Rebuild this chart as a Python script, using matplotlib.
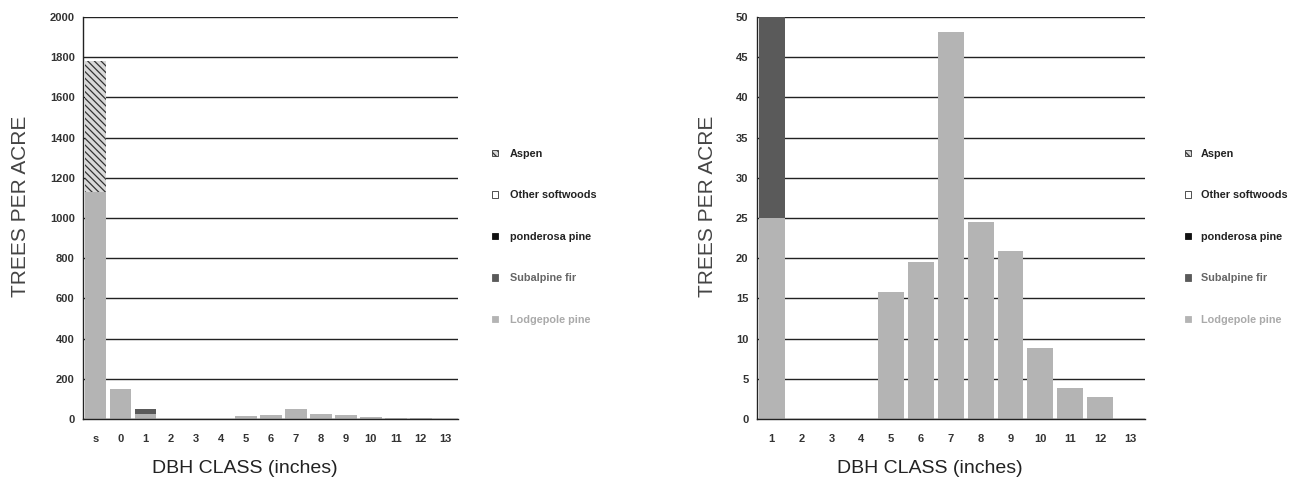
import matplotlib.pyplot as plt
from matplotlib.patches import Patch
import numpy as np

plt.rcParams['font.family'] = ['Liberation Sans', 'DejaVu Sans']
plt.rcParams['hatch.linewidth'] = 0.9

# DBH classes (s = seedlings)
classes = ['s', '0', '1', '2', '3', '4', '5', '6', '7', '8', '9', '10', '11', '12', '13']
lodgepole = [1130, 150, 25, 0, 0, 0, 15.8, 19.5, 48.1, 24.5, 20.9, 8.8, 3.9, 2.7, 0]
subalpine = [0, 0, 25.2, 0, 0, 0, 0, 0, 0, 0, 0, 0, 0, 0, 0]
ponderosa = [0] * 15
other_soft = [0] * 15
aspen = [650, 0, 0, 0, 0, 0, 0, 0, 0, 0, 0, 0, 0, 0, 0]

species = ['Lodgepole pine', 'Subalpine fir', 'ponderosa pine', 'Other softwoods', 'Aspen']
colors = ['#b4b4b4', '#5a5a5a', '#111111', '#ffffff', '#d8d8d8']
hatches = [None, None, None, None, '\\\\\\\\\\']
text_colors = ['#222222', '#222222', '#222222', '#666666', '#aaaaaa']  # legend order (Aspen first)

fig = plt.figure(figsize=(12.98, 4.86), dpi=100)
ax1 = fig.add_axes([0.064, 0.138, 0.289, 0.827])
ax2 = fig.add_axes([0.583, 0.138, 0.299, 0.827])


def draw_panel(ax, start, ymax, ystep, lab_x, xlab_x, leg_x, textpad):
    cats = classes[start:]
    x = np.arange(len(cats))
    bottom = np.zeros(len(cats))
    for vals, c, h in zip([lodgepole, subalpine, ponderosa, other_soft, aspen], colors, hatches):
        v = np.array(vals[start:], dtype=float)
        ax.bar(x, v, width=0.87, bottom=bottom, color=c, hatch=h,
               edgecolor='#333333' if h else c, linewidth=0, zorder=2)
        bottom += v
    ax.set_xlim(-0.5, len(cats) - 0.5)
    ax.set_ylim(0, ymax)
    ax.set_yticks(np.arange(0, ymax + 1, ystep))
    ax.set_xticks(x)
    ax.set_xticklabels(cats)
    ax.yaxis.grid(True, color='#222222', linewidth=1.0)
    ax.set_axisbelow(True)
    for s in ['top', 'right']:
        ax.spines[s].set_visible(False)
    for s in ['left', 'bottom']:
        ax.spines[s].set_color('#222222')
        ax.spines[s].set_linewidth(1.0)
    ax.tick_params(axis='both', length=0, labelsize=8, labelcolor='#333333')
    ax.tick_params(axis='x', pad=11)
    ax.tick_params(axis='y', pad=6)
    for t in ax.get_xticklabels() + ax.get_yticklabels():
        t.set_fontweight('bold')
    ax.set_ylabel('TREES PER ACRE', fontsize=15, color='#444444')
    ax.yaxis.set_label_coords(lab_x, 0.53)
    ax.set_xlabel('DBH CLASS (inches)', fontsize=14, color='#222222')
    ax.xaxis.set_label_coords(xlab_x, -0.102)

    handles = [Patch(facecolor=colors[i], edgecolor='#333333' if i >= 3 else colors[i],
                     hatch=hatches[i], linewidth=0.6) for i in range(4, -1, -1)]
    leg = ax.legend(handles, species[::-1], loc='center left', bbox_to_anchor=(leg_x, 0.453),
                    frameon=False, fontsize=7.8, handlelength=0.55, handleheight=0.55,
                    handletextpad=textpad, labelspacing=2.9, borderpad=0, borderaxespad=0)
    for t, c in zip(leg.get_texts(), text_colors):
        t.set_color(c)
        t.set_fontweight('bold')


draw_panel(ax1, 0, 2000, 200, -0.141, 0.43, 1.091, 1.1)
draw_panel(ax2, 2, 50, 5, -0.103, 0.446, 1.103, 0.9)

plt.savefig('out.png', dpi=100, facecolor='white')
